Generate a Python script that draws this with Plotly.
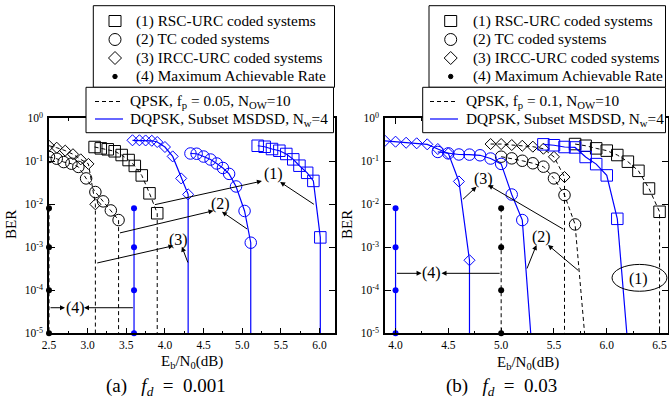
import plotly.graph_objects as go

W, H = 669, 403
FONT = "Liberation Serif"
BLUE = "#0000ff"
BLACK = "#000000"
NB = "\u00a0"

# ---------------- data ----------------
legend_labels = ["(1) RSC-URC coded systems", "(2) TC coded systems",
                 "(3) IRCC-URC coded systems", "(4) Maximum Achievable Rate"]
a_line_labels = ["QPSK, f<sub>p</sub> = 0.05, N<sub>OW</sub>=10",
                 "DQPSK, Subset MSDSD, N<sub>w</sub>=4"]
b_line_labels = ["QPSK, f<sub>p</sub> = 0.1, N<sub>OW</sub>=10",
                 "DQPSK, Subset MSDSD, N<sub>w</sub>=4"]
a_caption = ("(a)", "0.001")
b_caption = ("(b)", "0.03")

ber_floor = 1e-5
mar_ber = [0.0081, 1e-3, 1e-4, 1e-5]

# Panel (a): f_d = 0.001
a_rsc_qpsk_x = [3.09, 3.17, 3.26, 3.35, 3.44, 3.53, 3.61, 3.70, 3.80, 3.90]
a_rsc_qpsk_y = [0.215, 0.20, 0.19, 0.171, 0.14, 0.107, 0.078, 0.047, 0.018, 0.0062]
a_rsc_qpsk_end = 3.90
a_tc_qpsk_x = [2.50, 2.60, 2.69, 2.79, 2.88, 2.98, 3.10, 3.20, 3.30, 3.40]
a_tc_qpsk_y = [0.126, 0.115, 0.096, 0.088, 0.074, 0.040, 0.0193, 0.0117, 0.0072, 0.0043]
a_tc_qpsk_end = 3.40
a_ircc_qpsk_x = [2.50, 2.60, 2.71, 2.81, 2.91, 3.01, 3.10]
a_ircc_qpsk_y = [0.23, 0.207, 0.177, 0.146, 0.111, 0.087, 0.010]
a_ircc_qpsk_end = 3.10
a_rsc_dqpsk_x = [5.20, 5.29, 5.385, 5.48, 5.57, 5.66, 5.74, 5.84, 5.92, 6.01]
a_rsc_dqpsk_y = [0.23, 0.218, 0.193, 0.176, 0.148, 0.111, 0.079, 0.054, 0.035, 0.0017]
a_rsc_dqpsk_end = 6.01
a_tc_dqpsk_x = [4.33, 4.41, 4.50, 4.59, 4.67, 4.75, 4.83, 4.92, 5.03, 5.11]
a_tc_dqpsk_y = [0.152, 0.150, 0.129, 0.110, 0.089, 0.070, 0.051, 0.026, 0.0070, 0.00128]
a_tc_dqpsk_end = 5.11
a_ircc_dqpsk_x = [3.58, 3.67, 3.75, 3.83, 3.90, 4.00, 4.10, 4.21, 4.30]
a_ircc_dqpsk_y = [0.308, 0.308, 0.305, 0.30, 0.281, 0.215, 0.13, 0.04, 0.017]
a_ircc_dqpsk_end = 4.30
a_mar_qpsk_x = 2.5
a_mar_dqpsk_x = 3.6

# Panel (b): f_d = 0.03
b_rsc_qpsk_x = [5.7, 5.8, 5.9, 6.0, 6.1, 6.2, 6.3, 6.4, 6.5]
b_rsc_qpsk_y = [0.252, 0.23, 0.20, 0.177, 0.14, 0.098, 0.06, 0.0233, 0.0067]
b_rsc_qpsk_end = 6.5
b_tc_qpsk_x = [5.0, 5.1, 5.2, 5.3, 5.4, 5.5, 5.6, 5.7]
b_tc_qpsk_y = [0.128, 0.117, 0.103, 0.09, 0.075, 0.04, 0.0164, 0.0034]
b_tc_qpsk_end = 5.79
b_ircc_qpsk_x = [4.9, 5.0, 5.1, 5.2, 5.3, 5.4, 5.5, 5.6]
b_ircc_qpsk_y = [0.252, 0.252, 0.239, 0.23, 0.219, 0.196, 0.127, 0.043]
b_ircc_qpsk_end = 5.6
b_rsc_dqpsk_x = [5.4, 5.5, 5.6, 5.7, 5.8, 5.9, 6.0, 6.1]
b_rsc_dqpsk_y = [0.248, 0.236, 0.215, 0.21, 0.126, 0.086, 0.047, 0.0046]
b_rsc_dqpsk_end = 6.19
b_tc_dqpsk_x = [4.4, 4.5, 4.6, 4.7, 4.8, 4.9, 5.0, 5.1, 5.2]
b_tc_dqpsk_y = [0.165, 0.153, 0.144, 0.143, 0.138, 0.116, 0.087, 0.0169, 0.0043]
b_tc_dqpsk_end = 5.28
b_ircc_dqpsk_x = [3.9, 4.0, 4.1, 4.2, 4.3, 4.4, 4.5, 4.6, 4.7]
b_ircc_dqpsk_y = [0.30, 0.286, 0.27, 0.262, 0.248, 0.193, 0.153, 0.034, 0.0005]
b_ircc_dqpsk_end = 4.7
b_mar_qpsk_x = 5.0
b_mar_dqpsk_x = 4.0

a_xticks = [2.5, 3.0, 3.5, 4.0, 4.5, 5.0, 5.5, 6.0]
b_xticks = [4.0, 4.5, 5.0, 5.5, 6.0, 6.5]
y_ticks = [1, 1e-1, 1e-2, 1e-3, 1e-4, 1e-5]
y_ticktext = ["10<sup>0</sup>", "10<sup>-1</sup>", "10<sup>-2</sup>",
              "10<sup>-3</sup>", "10<sup>-4</sup>", "10<sup>-5</sup>"]

# ---------------- figure ----------------
fig = go.Figure()

SYM = {"rsc": ("square-open", 11.5), "tc": ("circle-open", 11.5), "ircc": ("diamond-open", 8.5)}


def add_curve(x, y, end_x, kind, qpsk, xa, ya):
    color = BLACK if qpsk else BLUE
    dash = "4px,3px" if qpsk else "solid"
    width = 1 if qpsk else 1.2
    fig.add_trace(go.Scatter(x=list(x) + [end_x], y=list(y) + [ber_floor], mode="lines",
                             line=dict(color=color, width=width, dash=dash),
                             xaxis=xa, yaxis=ya, showlegend=False, hoverinfo="skip"))
    sym, size = SYM[kind]
    fig.add_trace(go.Scatter(x=x, y=y, mode="markers",
                             marker=dict(symbol=sym, size=size, color=color,
                                         line=dict(color=color, width=1)),
                             xaxis=xa, yaxis=ya, showlegend=False))


def add_mar(xv, qpsk, xa, ya):
    color = BLACK if qpsk else BLUE
    fig.add_trace(go.Scatter(x=[xv] * len(mar_ber), y=mar_ber, mode="lines+markers",
                             line=dict(color=color, width=1.2 if not qpsk else 1,
                                       dash="4px,3px" if qpsk else "solid"),
                             marker=dict(symbol="circle", size=6, color=color),
                             xaxis=xa, yaxis=ya, showlegend=False, cliponaxis=False))


# panel (a)
add_curve(a_rsc_qpsk_x, a_rsc_qpsk_y, a_rsc_qpsk_end, "rsc", True, "x", "y")
add_curve(a_tc_qpsk_x, a_tc_qpsk_y, a_tc_qpsk_end, "tc", True, "x", "y")
add_curve(a_ircc_qpsk_x, a_ircc_qpsk_y, a_ircc_qpsk_end, "ircc", True, "x", "y")
add_curve(a_rsc_dqpsk_x, a_rsc_dqpsk_y, a_rsc_dqpsk_end, "rsc", False, "x", "y")
add_curve(a_tc_dqpsk_x, a_tc_dqpsk_y, a_tc_dqpsk_end, "tc", False, "x", "y")
add_curve(a_ircc_dqpsk_x, a_ircc_dqpsk_y, a_ircc_dqpsk_end, "ircc", False, "x", "y")
add_mar(a_mar_qpsk_x, True, "x", "y")
add_mar(a_mar_dqpsk_x, False, "x", "y")

# panel (b)
add_curve(b_rsc_qpsk_x, b_rsc_qpsk_y, b_rsc_qpsk_end, "rsc", True, "x2", "y2")
add_curve(b_tc_qpsk_x, b_tc_qpsk_y, b_tc_qpsk_end, "tc", True, "x2", "y2")
add_curve(b_ircc_qpsk_x, b_ircc_qpsk_y, b_ircc_qpsk_end, "ircc", True, "x2", "y2")
add_curve(b_rsc_dqpsk_x, b_rsc_dqpsk_y, b_rsc_dqpsk_end, "rsc", False, "x2", "y2")
add_curve(b_tc_dqpsk_x, b_tc_dqpsk_y, b_tc_dqpsk_end, "tc", False, "x2", "y2")
add_curve(b_ircc_dqpsk_x, b_ircc_dqpsk_y, b_ircc_dqpsk_end, "ircc", False, "x2", "y2")
add_mar(b_mar_qpsk_x, True, "x2", "y2")
add_mar(b_mar_dqpsk_x, False, "x2", "y2")


def px(v):
    return v / W


def py(v):
    return 1 - v / H


tickfont = dict(family=FONT, size=11.5, color=BLACK)
common_x = dict(ticks="inside", ticklen=6, tickwidth=1, tickcolor=BLACK, mirror="allticks",
                showline=True, linecolor=BLACK, linewidth=1.5, showgrid=False, zeroline=False,
                tickfont=tickfont, tickformat=".1f", automargin=False,
                minor=dict(dtick=0.25, ticks="inside", ticklen=3, tickcolor=BLACK, showgrid=False))
common_y = dict(type="log", range=[-5, 0], tickvals=y_ticks, ticktext=y_ticktext,
                ticks="inside", ticklen=6, tickwidth=1, tickcolor=BLACK, mirror="allticks",
                showline=True, linecolor=BLACK, linewidth=1.5, showgrid=False, zeroline=False,
                tickfont=tickfont, ticklabelstandoff=2, automargin=False)

y_dom = [py(333.3), py(118.3)]
fig.update_layout(
    template="none",
    width=W, height=H, margin=dict(l=0, r=0, t=0, b=0, autoexpand=False),
    paper_bgcolor="white", plot_bgcolor="white", showlegend=False,
    font=dict(family=FONT, color=BLACK),
    xaxis=dict(domain=[px(49), px(335)], range=[2.5, 6.2], tickvals=a_xticks, anchor="y",
               **common_x),
    yaxis=dict(domain=y_dom, anchor="x", **common_y),
    xaxis2=dict(domain=[px(385), px(668)], range=[3.9, 6.58], tickvals=b_xticks, anchor="y2",
                **common_x),
    yaxis2=dict(domain=y_dom, anchor="x2", **common_y),
)

shapes = []
annotations = []
LBL = dict(family=FONT, size=16, color=BLACK)
LEG = dict(family=FONT, size=15.3, color=BLACK)


def arrow(xr, yr, tx, tly, hx, hly):
    annotations.append(dict(xref=xr, yref=yr, axref=xr, ayref=yr, x=hx, y=hly, ax=tx, ay=tly,
                            text="", showarrow=True, arrowhead=2, arrowsize=1, arrowwidth=1,
                            arrowcolor=BLACK, standoff=0, startstandoff=0))


def label(xr, yr, x, ly, t):
    annotations.append(dict(xref=xr, yref=yr, x=x, y=ly, text=t, showarrow=False,
                            font=LBL, xanchor="center", yanchor="middle"))


# panel (a) callouts
label("x", "y", 5.405, -1.29, "(1)")
arrow("x", "y", 3.85, -2.016, 5.255, -1.46)
arrow("x", "y", 5.946, -2.023, 5.49, -1.48)
label("x", "y", 4.715, -1.99, "(2)")
arrow("x", "y", 3.398, -2.674, 4.628, -2.15)
arrow("x", "y", 5.082, -2.598, 4.737, -2.172)
label("x", "y", 4.175, -2.83, "(3)")
arrow("x", "y", 3.105, -3.372, 4.11, -2.963)
arrow("x", "y", 4.304, -3.388, 4.219, -2.986)
label("x", "y", 2.837, -4.405, "(4)")
arrow("x", "y", 2.5, -4.405, 2.707, -4.405)
arrow("x", "y", 3.605, -4.405, 2.953, -4.405)

# panel (b) callouts
label("x2", "y2", 4.835, -1.42, "(3)")
arrow("x2", "y2", 4.624, -1.916, 4.766, -1.591)
arrow("x2", "y2", 5.602, -2.598, 4.876, -1.551)
label("x2", "y2", 5.381, -2.767, "(2)")
arrow("x2", "y2", 5.239, -3.528, 5.334, -2.947)
arrow("x2", "y2", 5.744, -3.567, 5.444, -2.947)
label("x2", "y2", 4.341, -3.605, "(4)")
arrow("x2", "y2", 4.0, -3.605, 4.246, -3.605)
arrow("x2", "y2", 5.0, -3.605, 4.435, -3.605)
label("x2", "y2", 6.30, -3.73, "(1)")
shapes.append(dict(type="circle", xref="x2", yref="y2", x0=6.05, x1=6.57, y0=9.5e-5, y1=4.0e-4,
                   line=dict(color=BLACK, width=1)))


def paper_text(cx, cy, t, size, angle=0):
    annotations.append(dict(xref="paper", yref="paper", x=px(cx), y=py(cy), text=t,
                            textangle=angle, showarrow=False, xanchor="center",
                            yanchor="middle", font=dict(family=FONT, size=size, color=BLACK)))


def caption(tag, val):
    return (tag + NB * 3 + "<i>f</i><sub><i>d</i></sub>" + NB * 2 + "=" + NB * 2 + val)


# axis titles and captions
paper_text(11, 225, "BER", 15, -90)
paper_text(347, 225, "BER", 15, -90)
paper_text(192, 362, "E<sub>b</sub>/N<sub>0</sub>(dB)", 15)
paper_text(528, 363, "E<sub>b</sub>/N<sub>0</sub>(dB)", 15)
paper_text(165.5, 387, caption(*a_caption), 19)
paper_text(501.5, 387, caption(*b_caption), 19)


# legend boxes (drawn manually)
def legend_block(bx0, bx1, sym_x, text_x, b2x0, b2x1, line_x0, line_x1, text2_x, line_labels):
    shapes.append(dict(type="rect", xref="paper", yref="paper", layer="above",
                       x0=px(bx0), x1=px(bx1), y0=py(87.3), y1=py(5.7),
                       line=dict(color=BLACK, width=1), fillcolor="white"))
    shapes.append(dict(type="rect", xref="paper", yref="paper", layer="above",
                       x0=px(b2x0), x1=px(b2x1), y0=py(132.7), y1=py(87.3),
                       line=dict(color=BLACK, width=1), fillcolor="white"))
    rows = [21, 39.5, 58, 76.5]
    r = 6
    shapes.append(dict(type="rect", xref="paper", yref="paper", layer="above",
                       x0=px(sym_x - r), x1=px(sym_x + r), y0=py(rows[0] + r - 0.5),
                       y1=py(rows[0] - r + 0.5), line=dict(color=BLACK, width=1)))
    shapes.append(dict(type="circle", xref="paper", yref="paper", layer="above",
                       x0=px(sym_x - r), x1=px(sym_x + r), y0=py(rows[1] + r),
                       y1=py(rows[1] - r), line=dict(color=BLACK, width=1)))
    d = 6.5
    cy = rows[2]
    path = "M {},{} L {},{} L {},{} L {},{} Z".format(
        px(sym_x), py(cy - d), px(sym_x + d), py(cy), px(sym_x), py(cy + d), px(sym_x - d), py(cy))
    shapes.append(dict(type="path", xref="paper", yref="paper", layer="above", path=path,
                       line=dict(color=BLACK, width=1)))
    shapes.append(dict(type="circle", xref="paper", yref="paper", layer="above",
                       x0=px(sym_x - 2.2), x1=px(sym_x + 2.2), y0=py(rows[3] + 2.2),
                       y1=py(rows[3] - 2.2), line=dict(color=BLACK, width=1), fillcolor=BLACK))
    for rr, t in zip(rows, legend_labels):
        annotations.append(dict(xref="paper", yref="paper", x=px(text_x), y=py(rr), text=t,
                                showarrow=False, xanchor="left", yanchor="middle", font=LEG))
    rows2 = [101.5, 119]
    shapes.append(dict(type="line", xref="paper", yref="paper", layer="above",
                       x0=px(line_x0), x1=px(line_x1), y0=py(rows2[0]), y1=py(rows2[0]),
                       line=dict(color=BLACK, width=1, dash="4px,3px")))
    shapes.append(dict(type="line", xref="paper", yref="paper", layer="above",
                       x0=px(line_x0), x1=px(line_x1), y0=py(rows2[1]), y1=py(rows2[1]),
                       line=dict(color=BLUE, width=1.2)))
    for rr, t in zip(rows2, line_labels):
        annotations.append(dict(xref="paper", yref="paper", x=px(text2_x), y=py(rr), text=t,
                                showarrow=False, xanchor="left", yanchor="middle", font=LEG))


legend_block(93.3, 334.5, 115, 134, 86, 333.5, 95, 123, 128, a_line_labels)
legend_block(429, 665.5, 450.7, 470.5, 422.7, 665.5, 430, 458, 464, b_line_labels)

fig.update_layout(shapes=shapes, annotations=annotations)
fig.write_html("out.html", config={"displayModeBar": False},
               post_script="document.body.style.margin='0px';")
